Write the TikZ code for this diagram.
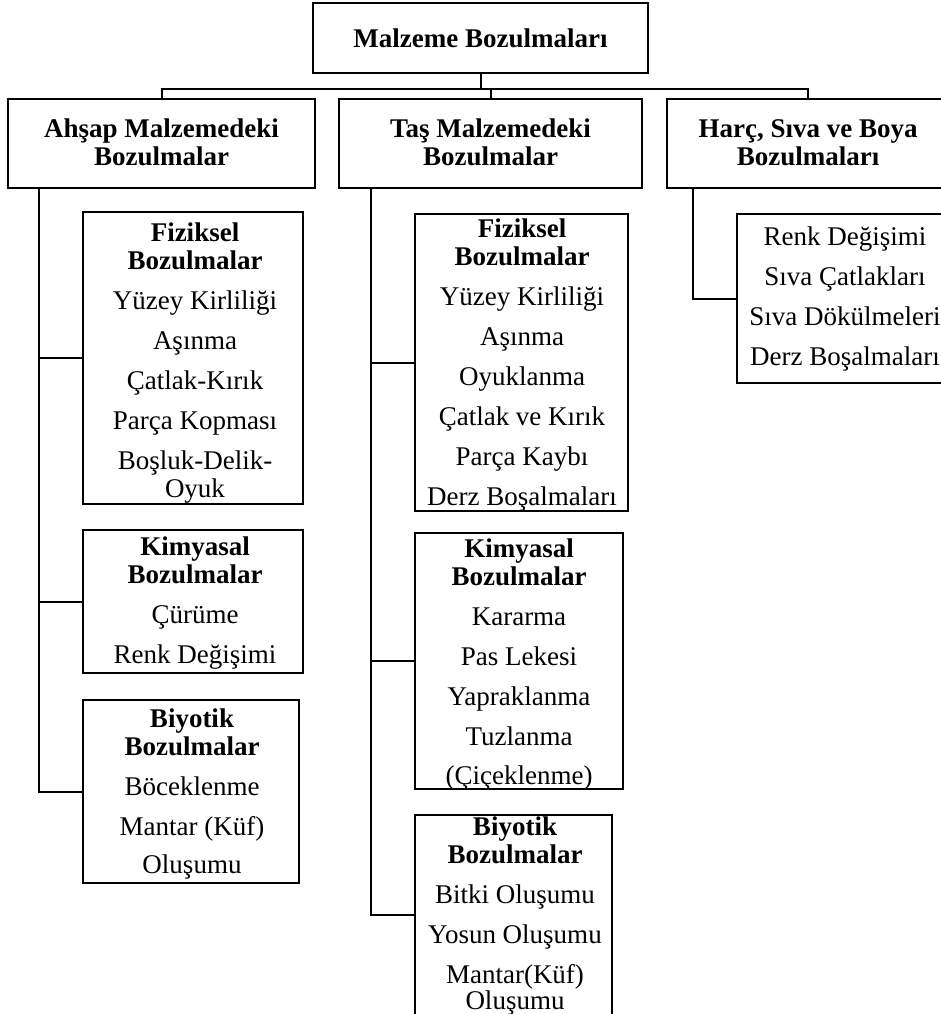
\documentclass[tikz,border=0pt]{standalone}
\usepackage{fontspec}
\setmainfont{Liberation Serif}
\newcommand{\boxlines}[1]{\begin{tabular}[t]{@{}c@{}}#1\end{tabular}}

\begin{document}
\begin{tikzpicture}[x=1pt, y=-1pt,
    box/.style={draw, line width=2pt, inner sep=0pt},
    txt/.style={anchor=base, inner sep=0pt, font=\fontsize{27}{28}\selectfont},
    link/.style={line width=2pt}]
  \useasboundingbox (0,0) rectangle (941,1014);
  \clip (0,0) rectangle (941,1014);

  \node[box, minimum width=335pt, minimum height=70pt] (malzeme) at (480.5,38) {};
  \node[box, minimum width=307pt, minimum height=89pt] (ahsap) at (161.5,143.5) {};
  \node[box, minimum width=303pt, minimum height=89pt] (tas) at (490.5,143.5) {};
  \node[box, minimum width=282pt, minimum height=89pt] (harc) at (808,143.5) {};

  \node[box, minimum width=220pt, minimum height=292pt] (ahsapFiz) at (193,358) {};
  \node[box, minimum width=220pt, minimum height=143pt] (ahsapKim) at (193,601.5) {};
  \node[box, minimum width=216pt, minimum height=183pt] (ahsapBiy) at (191,791.5) {};

  \node[box, minimum width=213pt, minimum height=297pt] (tasFiz) at (521.5,362.5) {};
  \node[box, minimum width=208pt, minimum height=256pt] (tasKim) at (519,661) {};
  \node[box, minimum width=197pt, minimum height=200pt] (tasBiy) at (513.5,915) {};

  \node[box, minimum width=216pt, minimum height=169pt] (harcList) at (845,298.5) {};

  \node[txt] (malzemeText) at (480.5,48) {\textbf{Malzeme Bozulmaları}};
  \node[txt] (ahsapText) at (161.5,138)
    {\boxlines{\textbf{Ahşap Malzemedeki}\\ \textbf{Bozulmalar}}};
  \node[txt] (tasText) at (490.5,138)
    {\boxlines{\textbf{Taş Malzemedeki}\\ \textbf{Bozulmalar}}};
  \node[txt] (harcText) at (808,138)
    {\boxlines{\textbf{Harç, Sıva ve Boya}\\ \textbf{Bozulmaları}}};

  \node[txt] (ahsapFizText) at (195,241)
    {\boxlines{\textbf{Fiziksel}\\ \textbf{Bozulmalar}\\[12pt] Yüzey Kirliliği\\[12pt] Aşınma\\[12pt]
      Çatlak-Kırık\\[12pt] Parça Kopması\\[12pt] Boşluk-Delik-\\ Oyuk}};
  \node[txt] (ahsapKimText) at (195,555)
    {\boxlines{\textbf{Kimyasal}\\ \textbf{Bozulmalar}\\[12pt] Çürüme\\[12pt] Renk Değişimi}};
  \node[txt] (ahsapBiyText) at (192,727)
    {\boxlines{\textbf{Biyotik}\\ \textbf{Bozulmalar}\\[12pt] Böceklenme\\[12pt] Mantar (Küf)\\[10pt] Oluşumu}};

  \node[txt] (tasFizText) at (522,237)
    {\boxlines{\textbf{Fiziksel}\\ \textbf{Bozulmalar}\\[12pt] Yüzey Kirliliği\\[12pt] Aşınma\\[12pt]
      Oyuklanma\\[12pt] Çatlak ve Kırık\\[12pt] Parça Kaybı\\[12pt] Derz Boşalmaları}};
  \node[txt] (tasKimText) at (519,557)
    {\boxlines{\textbf{Kimyasal}\\ \textbf{Bozulmalar}\\[12pt] Kararma\\[12pt] Pas Lekesi\\[12pt]
      Yapraklanma\\[12pt] Tuzlanma\\[11pt] (Çiçeklenme)}};
  \node[txt] (tasBiyText) at (515,835)
    {\boxlines{\textbf{Biyotik}\\ \textbf{Bozulmalar}\\[12pt] Bitki Oluşumu\\[12pt] Yosun Oluşumu\\[12pt]
      Mantar(Küf)\\[-2pt] Oluşumu}};

  \node[txt] (harcListText) at (845,245)
    {\boxlines{Renk Değişimi\\[12pt] Sıva Çatlakları\\[12pt] Sıva Dökülmeleri\\[12pt] Derz Boşalmaları}};

  \draw[link] (malzeme.south) -- ++(0,15) coordinate (bus);
  \draw[link] (bus) -| (ahsap.north);
  \draw[link] (bus) -| (tas.north);
  \draw[link] (bus) -| (harc.north);

  \draw[link] ([xshift=32pt]ahsap.south west) |- (ahsapFiz.west);
  \draw[link] ([xshift=32pt]ahsap.south west) |- (ahsapKim.west);
  \draw[link] ([xshift=32pt]ahsap.south west) |- (ahsapBiy.west);

  \draw[link] ([xshift=33pt]tas.south west) |- (tasFiz.west);
  \draw[link] ([xshift=33pt]tas.south west) |- (tasKim.west);
  \draw[link] ([xshift=33pt]tas.south west) |- (tasBiy.west);

  \draw[link] ([xshift=27pt]harc.south west) |- (harcList.west);

\end{tikzpicture}
\end{document}
